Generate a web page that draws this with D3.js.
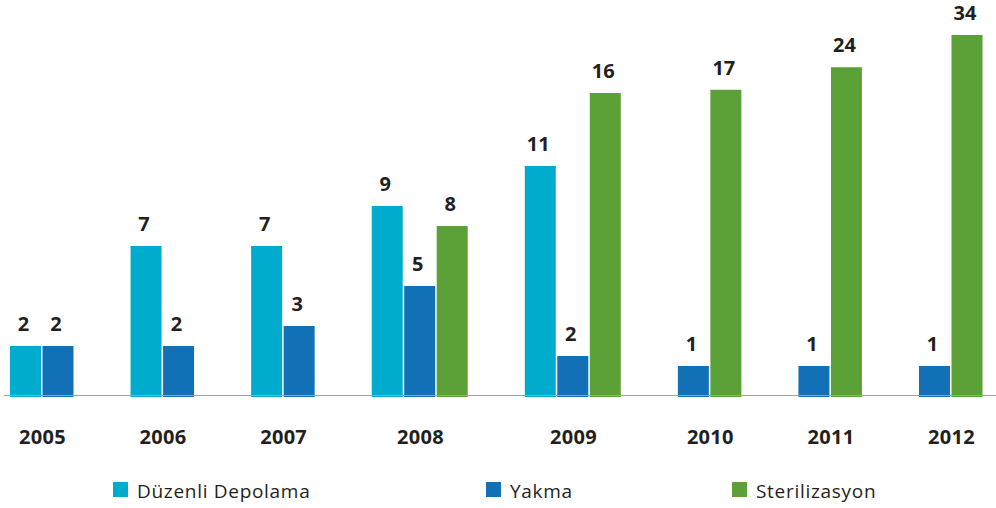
<!DOCTYPE html>
<html>
<head>
<meta charset="utf-8">
<script src="https://cdn.jsdelivr.net/npm/d3@7"></script>
<style>
  body { margin: 0; background: #fff; }
  svg { display: block; font-family: "Open Sans", sans-serif; }
</style>
</head>
<body>
<div id="chart"></div>
<script>
// Data (2009 Yakma bar is drawn lower than its "2" label, so ~1.5)
const years = ["2005", "2006", "2007", "2008", "2009", "2010", "2011", "2012"];
const duzenliDepolama = [2, 7, 7, 9, 11, null, null, null];
const yakma = [2, 2, 3, 5, 1.5, 1, 1, 1];
const sterilizasyon = [null, null, null, 8, 16, 17, 24, 34];

const seriesNames = ["Düzenli Depolama", "Yakma", "Sterilizasyon"];
const seriesColors = ["#00acce", "#1170b6", "#5ca038"];
const seriesValues = [duzenliDepolama, yakma, sterilizasyon];

const width = 996, height = 508;
const baseline = 396;

const svg = d3.select("#chart").append("svg")
    .attr("width", width)
    .attr("height", height);

// Build groups: only bars that exist, packed and centred in their group
const groups = years.map((year, i) => ({
    year,
    bars: seriesValues
        .map((vals, s) => ({ series: s, value: vals[i] }))
        .filter(d => d.value != null)
}));

// x scale in "slot" units: one unit per bar, a fixed gap between groups
const groupGap = 1.71;
let cursor = 0;
groups.forEach(g => {
    g.start = cursor;
    g.bars.forEach((b, j) => { b.slot = cursor + j; });
    cursor += g.bars.length;
    g.end = cursor;
    cursor += groupGap;
});
const totalUnits = cursor - groupGap;

const xScale = d3.scaleLinear()
    .domain([0, totalUnits])
    .range([10, 984]);

const slotW = xScale(1) - xScale(0);
const barW = slotW - 1.5;

// the source chart's value axis is not linear; piecewise fit of its bar heights
const yScale = d3.scaleLinear()
    .domain([0, 11, 16, 34])
    .range([386, 166, 93, 35]);

const fmt = d3.format(".0f");
const allBars = groups.flatMap(g => g.bars.map(b => ({ ...b, year: g.year })));

svg.selectAll(".bar")
    .data(allBars)
    .enter()
    .append("rect")
    .attr("class", "bar")
    .attr("x", d => xScale(d.slot))
    .attr("y", d => yScale(d.value))
    .attr("width", barW)
    .attr("height", d => baseline + 1 - yScale(d.value))
    .style("fill", d => seriesColors[d.series]);

// baseline
svg.append("line")
    .attr("x1", 4)
    .attr("x2", width)
    .attr("y1", baseline - 0.5)
    .attr("y2", baseline - 0.5)
    .style("stroke", "#a3a3a3")
    .style("stroke-width", 1.2);

// value labels
svg.selectAll(".value-label")
    .data(allBars)
    .enter()
    .append("text")
    .attr("class", "value-label")
    .attr("x", d => xScale(d.slot) + barW / 2 - 2)
    .attr("y", d => yScale(d.value) - 15)
    .attr("text-anchor", "middle")
    .style("font-size", "20px")
    .style("font-weight", "bold")
    .style("fill", "#231f20")
    .text(d => fmt(d.value));

// year labels
svg.selectAll(".year-label")
    .data(groups)
    .enter()
    .append("text")
    .attr("class", "year-label")
    .attr("x", d => (xScale(d.start) + xScale(d.end)) / 2)
    .attr("y", 444)
    .attr("text-anchor", "middle")
    .style("font-size", "20px")
    .style("font-weight", "bold")
    .style("letter-spacing", "0.3px")
    .style("fill", "#231f20")
    .text(d => d.year);

// legend
const legendX = [113, 486, 732];
const legend = svg.selectAll(".legend")
    .data(seriesNames)
    .enter()
    .append("g")
    .attr("class", "legend")
    .attr("transform", (d, i) => `translate(${legendX[i]},482)`);

legend.append("rect")
    .attr("width", 15)
    .attr("height", 15)
    .style("fill", (d, i) => seriesColors[i]);

legend.append("text")
    .attr("x", 24)
    .attr("y", 16)
    .style("font-size", "19px")
    .style("letter-spacing", "0.7px")
    .style("fill", "#231f20")
    .text(d => d);
</script>
</body>
</html>
